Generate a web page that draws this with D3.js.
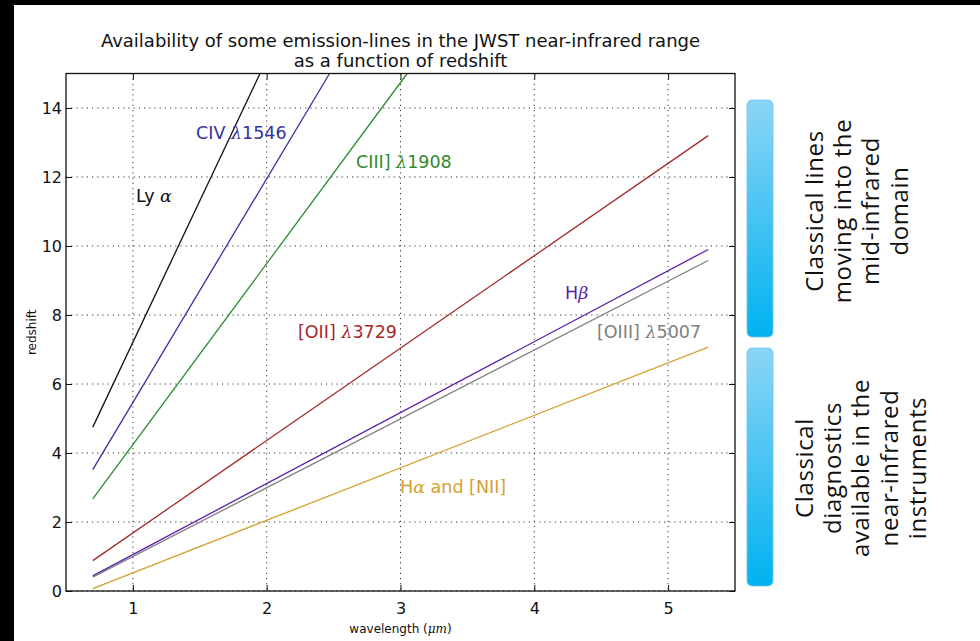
<!DOCTYPE html>
<html>
<head>
<meta charset="utf-8">
<script src="https://cdn.jsdelivr.net/npm/d3@7"></script>
<style>
  html, body { margin: 0; padding: 0; background: #000; }
  svg { display: block; }
</style>
</head>
<body>
<svg id="chart" width="980" height="641"></svg>
<script>
// Emission lines: observed wavelength (µm) vs redshift, two end points each
const lineNames = ["Ly α", "CIV λ1546", "CIII] λ1908", "[OII] λ3729", "Hβ", "[OIII] λ5007", "Hα and [NII]"];
const lyaPts  = [[0.7, 4.75], [1.95, 15]];
const civPts  = [[0.7, 3.52], [2.47, 15]];
const ciiiPts = [[0.7, 2.67], [3.05, 15]];
const oiiPts  = [[0.7, 0.88], [5.3, 13.2]];
const hbPts   = [[0.7, 0.44], [5.3, 9.9]];
const oiiiPts = [[0.7, 0.40], [5.3, 9.58]];
const haPts   = [[0.7, 0.07], [5.3, 7.07]];
const lineColors = ["#111111", "#3232a0", "#2f8a2f", "#a32a2a", "#5a1ea8", "#808080", "#d4a030"];

const xTicks = [1, 2, 3, 4, 5];
const yTicks = [0, 2, 4, 6, 8, 10, 12, 14];

const titleLines = ["Availability of some emission-lines in the JWST near-infrared range", "as a function of redshift"];
const panelTexts = [
  ["Classical lines", "moving into the", "mid-infrared", "domain"],
  ["Classical", "diagnostics", "available in the", "near-infrared", "instruments"]
];

const svg = d3.select("#chart");
const W = 980, H = 641;

// page background with dark border along top and left
svg.append("rect").attr("width", W).attr("height", H).attr("fill", "#000");
svg.append("rect").attr("x", 14).attr("y", 5).attr("width", W - 14).attr("height", H - 5).attr("fill", "#fff");

const m = { left: 66, right: 735, top: 73.5, bottom: 591 };
const x = d3.scaleLinear().domain([0.5, 5.5]).range([m.left, m.right]);
const y = d3.scaleLinear().domain([0, 15]).range([m.bottom, m.top]);

const font = "'DejaVu Sans', sans-serif";

// title
svg.append("g").selectAll("text").data(titleLines).join("text")
  .attr("x", (m.left + m.right) / 2)
  .attr("y", (d, i) => 47 + i * 20)
  .attr("text-anchor", "middle")
  .attr("font-family", font)
  .attr("font-size", 18)
  .attr("fill", "#111")
  .text(d => d);

// dotted grid
const grid = svg.append("g").attr("stroke", "#333").attr("stroke-width", 1).attr("stroke-dasharray", "1.2,4");
grid.selectAll("line.gx").data(xTicks).join("line")
  .attr("x1", d => x(d)).attr("x2", d => x(d))
  .attr("y1", m.top).attr("y2", m.bottom);
grid.selectAll("line.gy").data(yTicks).join("line")
  .attr("x1", m.left).attr("x2", m.right)
  .attr("y1", d => y(d)).attr("y2", d => y(d));

// emission lines
const series = [lyaPts, civPts, ciiiPts, oiiPts, hbPts, oiiiPts, haPts];
const lineGen = d3.line().x(d => x(d[0])).y(d => y(d[1]));
svg.append("g").selectAll("path").data(series).join("path")
  .attr("d", lineGen)
  .attr("fill", "none")
  .attr("stroke", (d, i) => lineColors[i])
  .attr("stroke-width", 1.3);

// axes with inward ticks on all four sides
const axisStyle = g => {
  g.select(".domain").remove();
  g.selectAll(".tick line").attr("stroke", "#111");
  g.selectAll(".tick text").attr("font-family", font).attr("font-size", 16).attr("fill", "#111");
};
svg.append("g").attr("transform", `translate(0,${m.bottom})`)
  .call(d3.axisBottom(x).tickValues(xTicks).tickSize(-6).tickPadding(12).tickFormat(d3.format("d")))
  .call(axisStyle);
svg.append("g").attr("transform", `translate(0,${m.top})`)
  .call(d3.axisTop(x).tickValues(xTicks).tickSize(-6).tickFormat(""))
  .call(axisStyle);
svg.append("g").attr("transform", `translate(${m.left},0)`)
  .call(d3.axisLeft(y).tickValues(yTicks).tickSize(-6).tickPadding(4).tickFormat(d3.format("d")))
  .call(axisStyle);
svg.append("g").attr("transform", `translate(${m.right},0)`)
  .call(d3.axisRight(y).tickValues(yTicks).tickSize(-6).tickFormat(""))
  .call(axisStyle);

// frame
svg.append("rect")
  .attr("x", m.left).attr("y", m.top)
  .attr("width", m.right - m.left).attr("height", m.bottom - m.top)
  .attr("fill", "none").attr("stroke", "#111").attr("stroke-width", 1.3);

// axis titles
svg.append("text")
  .attr("transform", `translate(36,${(m.top + m.bottom) / 2}) rotate(-90)`)
  .attr("text-anchor", "middle")
  .attr("font-family", font).attr("font-size", 12).attr("fill", "#111")
  .text("redshift");
const xl = svg.append("text")
  .attr("x", (m.left + m.right) / 2).attr("y", 633)
  .attr("text-anchor", "middle")
  .attr("font-family", font).attr("font-size", 12).attr("fill", "#111");
xl.append("tspan").text("wavelength (");
xl.append("tspan").attr("font-family", "'DejaVu Serif', serif").attr("font-style", "italic").text("μm");
xl.append("tspan").text(")");

// line labels (plain part + greek symbol part)
const labelParts = [
  [["Ly ", false], ["α", true]],
  [["CIV ", false], ["λ", true], ["1546", false]],
  [["CIII] ", false], ["λ", true], ["1908", false]],
  [["[OII] ", false], ["λ", true], ["3729", false]],
  [["H", false], ["β", true]],
  [["[OIII] ", false], ["λ", true], ["5007", false]],
  [["H", false], ["α", true], [" and [NII]", false]]
];
const labelPos = [[136, 202], [196, 139], [356, 168], [298, 338], [565, 299], [597, 338], [400, 493]];
labelParts.forEach((parts, i) => {
  const t = svg.append("text")
    .attr("x", labelPos[i][0]).attr("y", labelPos[i][1])
    .attr("font-family", font).attr("font-size", 17.5)
    .attr("fill", lineColors[i]);
  parts.forEach(([s, greek]) => {
    const ts = t.append("tspan").text(s);
    if (greek) ts.attr("font-family", "'DejaVu Serif', serif").attr("font-style", "italic");
  });
});

// side panels
const defs = svg.append("defs");
const grad = defs.append("linearGradient").attr("id", "barGrad").attr("x1", 0).attr("y1", 0).attr("x2", 0).attr("y2", 1);
grad.append("stop").attr("offset", "0%").attr("stop-color", "#8bd5f6");
grad.append("stop").attr("offset", "100%").attr("stop-color", "#00b2ef");

const bars = [[100, 337], [348, 586]];
svg.append("g").selectAll("rect").data(bars).join("rect")
  .attr("x", 747).attr("y", d => d[0])
  .attr("width", 26).attr("height", d => d[1] - d[0])
  .attr("rx", 5).attr("ry", 5)
  .attr("fill", "url(#barGrad)")
  .attr("stroke", "#6ec6ea").attr("stroke-width", 0.8);

const panelBase = [[823, 211], [813, 468]];
panelTexts.forEach((lines, k) => {
  lines.forEach((s, j) => {
    svg.append("text")
      .attr("transform", `translate(${panelBase[k][0] + j * 28.2},${panelBase[k][1]}) rotate(-90)`)
      .attr("text-anchor", "middle")
      .attr("font-family", "'Open Sans', sans-serif")
      .attr("font-size", 24)
      .attr("letter-spacing", 0.6)
      .attr("fill", "#111")
      .text(s);
  });
});
</script>
</body>
</html>
